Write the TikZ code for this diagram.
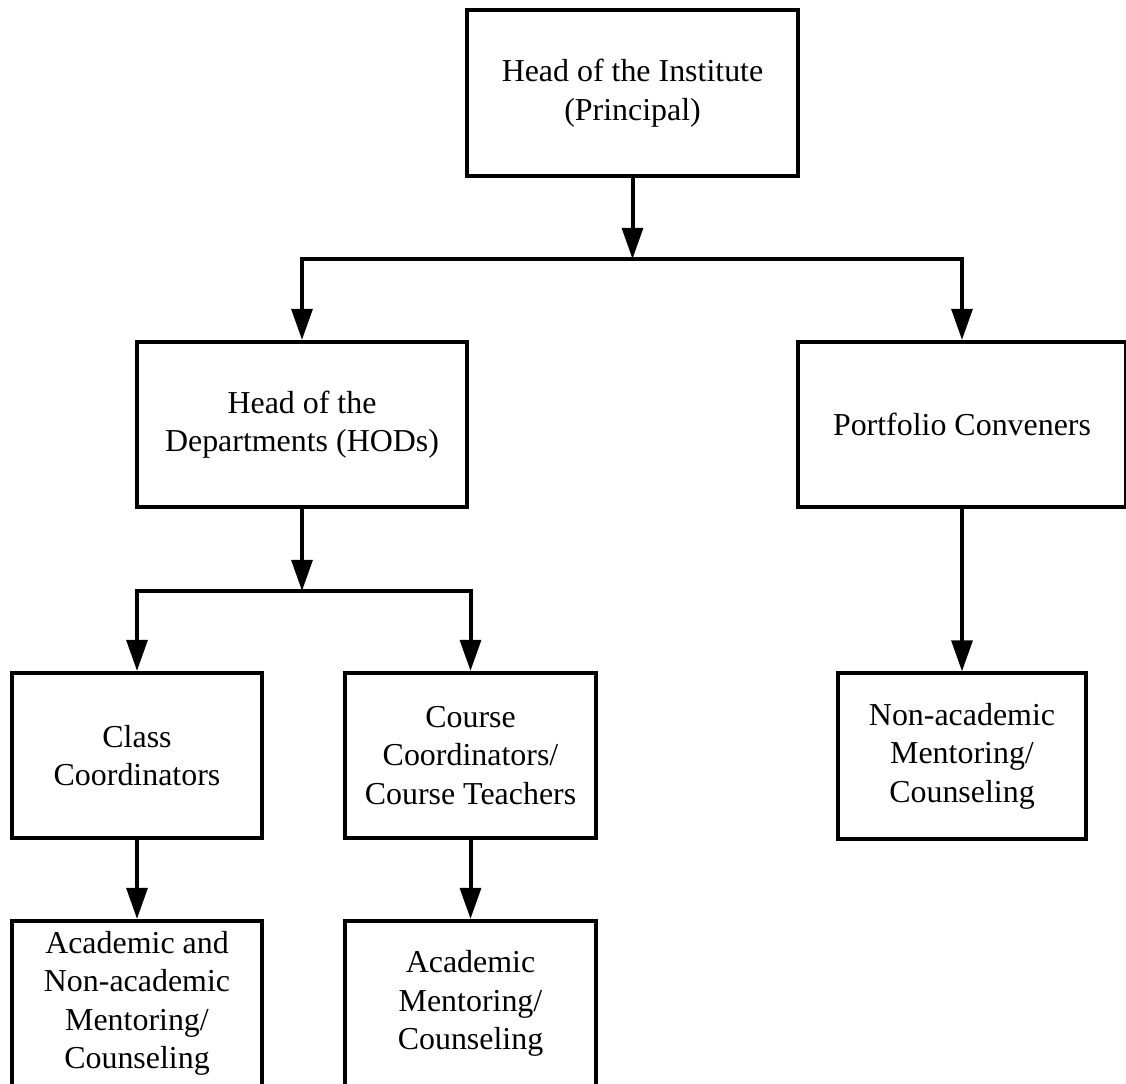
\documentclass[tikz,border=0pt]{standalone}
\usepackage{fontspec}
\setmainfont{Liberation Serif}
\usetikzlibrary{arrows.meta}

\begin{document}
\begin{tikzpicture}[x=0.025cm,y=-0.025cm,
    box/.style={draw,line width=0.1cm,align=center,inner sep=0pt,
      minimum height=4.125cm,
      font=\fontsize{22.7}{27.4}\selectfont},
    arr/.style={line width=0.1cm,-{Triangle[length=0.78cm,width=0.52cm]}},
    link/.style={line width=0.1cm}]
  \useasboundingbox (0,0) rectangle (1126,1084);
  \fill[white] (0,0) rectangle (1126,1084);
  % Top of the chart
  \node[box,minimum width=8.275cm] (principal) at (632.5,93) {Head of the Institute\\(Principal)};
  \coordinate (jtop) at (632.5,259);
  % Left-hand side part of the chart
  \node[box,minimum width=8.25cm]  (hod)      at (302,424.5) {Head of the\\Departments (HODs)};
  \coordinate (jhod) at (302,591);
  \node[box,minimum width=6.25cm]  (class)    at (137,755.5) {Class\\Coordinators};
  \node[box,minimum width=6.275cm] (course)   at (470.5,755.5) {Course\\Coordinators/\\Course Teachers};
  \node[box,minimum width=6.25cm]  (acadnon)  at (137,1003.5) {Academic and\\Non-academic\\Mentoring/\\Counseling};
  \node[box,minimum width=6.275cm] (acad)     at (470.5,1003.5) {Academic\\Mentoring/\\Counseling};
  % Right-hand side part of the chart
  \node[box,minimum width=8.2cm]   (portfolio) at (962,424.5) {Portfolio Conveners};
  \node[box,minimum width=6.2cm]   (nonacad)  at (962,756) {Non-academic\\Mentoring/\\Counseling};
  % connectors
  \draw[arr] (principal.south) -- (jtop);
  \draw[arr] (jtop) -| (hod.north);
  \draw[arr] (jtop) -| (portfolio.north);
  \draw[arr] (hod.south) -- (jhod);
  \draw[arr] (jhod) -| (class.north);
  \draw[arr] (jhod) -| (course.north);
  \draw[arr] (class) -- (acadnon);
  \draw[arr] (course) -- (acad);
  \draw[arr] (portfolio) -- (nonacad);
\end{tikzpicture}
\end{document}
